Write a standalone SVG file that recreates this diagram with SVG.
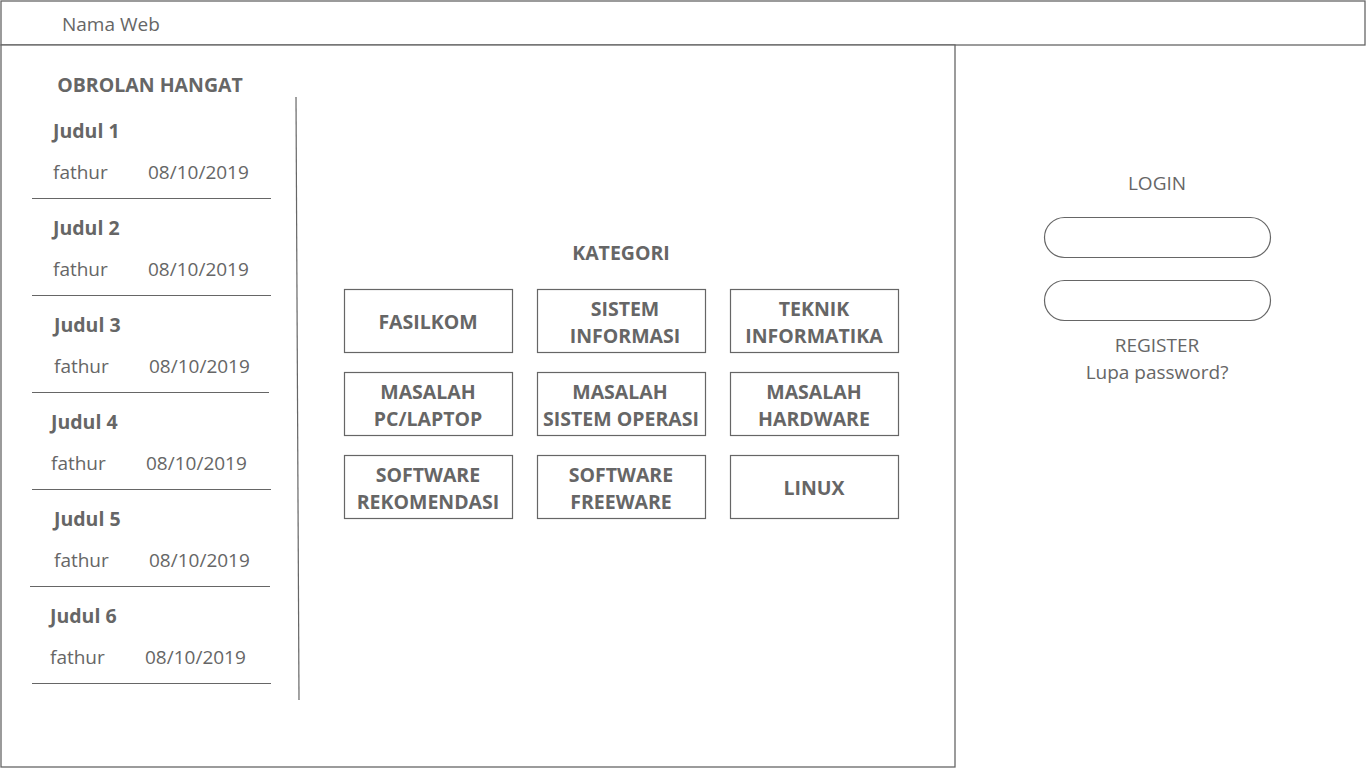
<svg xmlns="http://www.w3.org/2000/svg" width="1366" height="768" viewBox="0 0 1366 768">
<style>
text{font-family:"Open Sans","Noto Sans","DejaVu Sans",sans-serif;fill:#666;font-size:19px}
.b{font-weight:bold;font-size:19.5px}
.c{text-anchor:middle}
.frame{fill:#fff;stroke:#666;stroke-width:1.3}
.sep{stroke:#666;stroke-width:1.2;fill:none}
.box{fill:#fff;stroke:#666;stroke-width:1.2}
</style>
<rect width="1366" height="768" fill="#fff"/>
<g id="header">
<rect class="frame" x="1" y="1" width="1364" height="44"/>
<text x="62" y="31">Nama Web</text>
</g>
<g id="main">
<rect class="frame" x="1" y="45" width="954" height="722"/>
</g>
<g id="connectors">
<line class="sep" x1="296" y1="97" x2="299" y2="700"/>
</g>
<g id="sidebar">
<text class="b c" x="150" y="92">OBROLAN HANGAT</text>
<g id="item1"><text class="b" x="53" y="138">Judul 1</text><text x="53" y="179">fathur</text><text x="148" y="179">08/10/2019</text><line class="sep" x1="32" y1="198.5" x2="271" y2="198.5"/></g>
<g id="item2"><text class="b" x="53" y="235">Judul 2</text><text x="53" y="276">fathur</text><text x="148" y="276">08/10/2019</text><line class="sep" x1="32" y1="295.5" x2="271" y2="295.5"/></g>
<g id="item3"><text class="b" x="54" y="332">Judul 3</text><text x="54" y="373">fathur</text><text x="149" y="373">08/10/2019</text><line class="sep" x1="32" y1="392.5" x2="269" y2="392.5"/></g>
<g id="item4"><text class="b" x="51" y="429">Judul 4</text><text x="51" y="470">fathur</text><text x="146" y="470">08/10/2019</text><line class="sep" x1="32" y1="489.5" x2="271" y2="489.5"/></g>
<g id="item5"><text class="b" x="54" y="526">Judul 5</text><text x="54" y="567">fathur</text><text x="149" y="567">08/10/2019</text><line class="sep" x1="30" y1="586.5" x2="270" y2="586.5"/></g>
<g id="item6"><text class="b" x="50" y="623">Judul 6</text><text x="50" y="664">fathur</text><text x="145" y="664">08/10/2019</text><line class="sep" x1="32" y1="683.5" x2="271" y2="683.5"/></g>
</g>
<g id="kategori">
<text class="b c" x="621" y="260">KATEGORI</text>
<g id="cat1"><rect class="box" x="344.5" y="289.5" width="168" height="63"/><text class="b c" x="428" y="329">FASILKOM</text></g>
<g id="cat2"><rect class="box" x="537.5" y="289.5" width="168" height="63"/><text class="b c" x="625" y="316">SISTEM</text><text class="b c" x="625" y="343">INFORMASI</text></g>
<g id="cat3"><rect class="box" x="730.5" y="289.5" width="168" height="63"/><text class="b c" x="814" y="316">TEKNIK</text><text class="b c" x="814" y="343">INFORMATIKA</text></g>
<g id="cat4"><rect class="box" x="344.5" y="372.5" width="168" height="63"/><text class="b c" x="428" y="399">MASALAH</text><text class="b c" x="428" y="426">PC/LAPTOP</text></g>
<g id="cat5"><rect class="box" x="537.5" y="372.5" width="168" height="63"/><text class="b c" x="620" y="399">MASALAH</text><text class="b c" x="621" y="426">SISTEM OPERASI</text></g>
<g id="cat6"><rect class="box" x="730.5" y="372.5" width="168" height="63"/><text class="b c" x="814" y="399">MASALAH</text><text class="b c" x="814" y="426">HARDWARE</text></g>
<g id="cat7"><rect class="box" x="344.5" y="455.5" width="168" height="63"/><text class="b c" x="428" y="482">SOFTWARE</text><text class="b c" x="428" y="509">REKOMENDASI</text></g>
<g id="cat8"><rect class="box" x="537.5" y="455.5" width="168" height="63"/><text class="b c" x="621" y="482">SOFTWARE</text><text class="b c" x="621" y="509">FREEWARE</text></g>
<g id="cat9"><rect class="box" x="730.5" y="455.5" width="168" height="63"/><text class="b c" x="814" y="495">LINUX</text></g>
</g>
<g id="login">
<text class="c" x="1157" y="190">LOGIN</text>
<rect class="box" x="1044.5" y="217.5" width="226" height="40" rx="20"/>
<rect class="box" x="1044.5" y="280.5" width="226" height="40" rx="20"/>
<text class="c" x="1157" y="352">REGISTER</text>
<text class="c" x="1157" y="379">Lupa password?</text>
</g>
</svg>
